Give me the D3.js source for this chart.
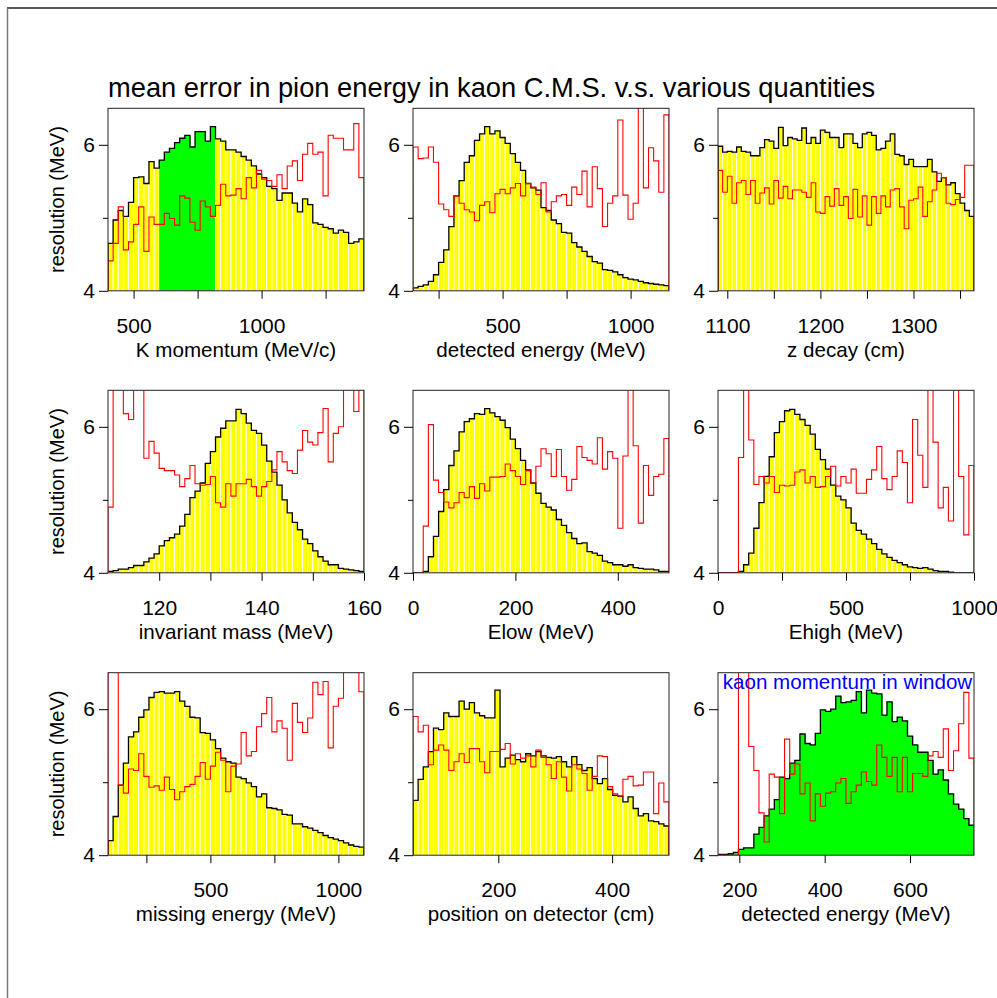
<!DOCTYPE html>
<html>
<head>
<meta charset="utf-8">
<script src="https://cdn.jsdelivr.net/npm/d3@7"></script>
<style>
  body { margin: 0; background: #fff; }
  text { font-family: "Liberation Sans", Arial, Helvetica, sans-serif; }
</style>
</head>
<body>
<div id="chart"></div>
<script>
// bin contents (y axis = resolution in MeV, 4 means empty)
var kMomHist = [4.65,4.97,5.10,5.02,5.21,5.55,5.56,5.47,5.77,5.68, 5.79,5.90,5.95,6.03,6.09,6.13,5.97,6.18,6.18,6.05,
  6.25,6.08,6.05,5.93,5.93,5.90,5.84,5.79,5.71,5.60, 5.55,5.43,5.40,5.24,5.34,5.34,5.20,5.08,5.26,5.18,
  4.93,4.91,4.87,4.85,4.79,4.83,4.80,4.65,4.67,4.71];
var kMomRes = [4.41,4.65,5.15,4.56,4.67,4.91,5.15,4.54,5.01,4.91, 4.91,5.06,4.99,4.90,5.30,5.27,4.94,4.83,5.23,5.15,
  5.02,5.17,5.46,5.30,5.31,5.40,5.26,5.55,5.41,5.65, 5.53,5.51,5.43,5.59,5.40,5.71,5.78,5.51,5.87,6.02,
  5.87,5.90,5.30,6.13,6.09,6.09,5.93,5.93,6.29,5.55];

var detEHist = [4.04,4.06,4.08,4.13,4.22,4.39,4.56,4.88,5.30,5.51, 5.76,5.85,6.06,6.15,6.25,6.15,6.19,6.10,6.02,5.88,
  5.76,5.65,5.47,5.41,5.38,5.14,5.10,4.97,4.92,4.80, 4.79,4.66,4.60,4.54,4.47,4.40,4.38,4.29,4.28,4.26,
  4.22,4.18,4.16,4.15,4.13,4.11,4.10,4.09,4.08,4.07];
var detERes = [5.97,5.81,5.82,5.97,5.76,5.19,5.11,5.02,5.30,5.20, 5.11,5.08,4.96,5.17,5.22,5.07,5.33,5.39,5.33,5.41,
  5.47,5.30,5.47,5.42,5.32,5.48,5.08,5.22,5.30,5.32, 5.17,5.42,5.32,5.64,5.15,5.70,5.40,4.88,5.20,5.30,
  6.34,5.31,4.98,5.20,6.60,5.41,5.96,5.78,5.35,6.41];

var zDecHist = [5.98,5.90,5.91,5.90,5.97,5.91,5.90,5.85,5.85,5.96, 6.07,6.05,5.95,6.24,5.99,6.10,6.08,6.06,6.23,6.02,
  6.10,6.02,6.20,6.17,6.10,6.10,5.96,6.15,6.15,6.02, 5.96,6.15,6.17,6.13,5.93,5.95,6.05,6.15,5.87,5.85,
  5.73,5.80,5.70,5.70,5.70,5.80,5.63,5.50,5.55,5.45, 5.48,5.33,5.20,5.10,5.02];
var zDecRes = [5.65,5.35,5.57,5.20,5.48,5.51,5.32,5.51,5.20,5.34, 5.41,5.19,5.51,5.27,5.43,5.26,5.38,5.38,5.35,5.28,
  5.48,5.08,5.06,5.29,5.16,5.40,5.17,5.29,4.99,5.39, 5.01,5.30,4.90,5.29,5.06,5.30,5.15,5.38,5.40,5.15,
  4.85,5.24,5.26,5.42,5.02,5.22,5.38,5.61,5.55,5.20, 5.18,5.25,5.28,5.72,5.72];

var invMHist = [4.02,4.03,4.05,4.05,4.07,4.10,4.10,4.15,4.20,4.26, 4.37,4.44,4.48,4.53,4.64,4.80,5.03,5.12,5.23,5.50,
  5.66,5.86,5.98,6.08,6.08,6.24,6.18,6.05,5.95,5.91, 5.75,5.53,5.38,5.20,5.00,4.82,4.69,4.59,4.46,4.40,
  4.30,4.22,4.16,4.11,4.11,4.06,4.05,4.04,4.03,4.02];
var invMRes = [4.90,6.60,6.60,6.18,6.10,6.60,6.60,5.57,5.80,5.64, 5.43,5.40,5.40,5.34,5.18,5.29,5.47,5.22,5.20,5.21,
  5.32,4.96,4.90,5.22,5.05,5.22,5.22,5.28,5.18,5.05, 5.18,5.25,5.41,5.66,5.52,5.40,5.36,5.68,5.95,5.79,
  5.75,5.92,6.25,5.52,5.91,6.00,6.60,6.60,6.21,6.60];

var elowHist = [4.00,4.00,4.02,4.22,4.50,4.84,5.14,5.47,5.67,5.93, 6.07,6.11,6.18,6.17,6.25,6.19,6.14,6.09,5.99,5.83,
  5.70,5.54,5.41,5.23,5.09,4.95,4.90,4.86,4.73,4.65, 4.55,4.47,4.40,4.41,4.29,4.27,4.24,4.16,4.14,4.11,
  4.11,4.09,4.11,4.07,4.06,4.05,4.05,4.04,4.02,4.02];
var elowRes = [4.00,4.00,4.64,6.03,5.27,5.10,4.97,4.89,4.96,5.10, 5.03,5.18,5.02,5.22,5.12,5.31,5.31,5.32,5.49,5.40,
  5.32,5.21,5.40,5.23,5.46,5.70,5.63,5.32,5.69,5.32, 5.13,5.28,5.73,5.58,5.54,5.49,5.85,5.42,5.66,5.57,
  4.61,5.60,6.60,5.74,4.68,5.47,5.06,5.32,5.35,5.84];

var ehighHist = [4.00,4.00,4.00,4.00,4.02,4.11,4.27,4.61,4.96,5.32, 5.59,5.92,6.07,6.22,6.24,6.17,6.10,6.02,5.90,5.69,
  5.55,5.42,5.20,5.05,5.00,4.89,4.68,4.58,4.53,4.46, 4.40,4.32,4.26,4.21,4.17,4.14,4.11,4.08,4.07,4.06,
  4.07,4.05,4.03,4.02,4.02,4.01,4.00,4.00,4.00,4.00];
var ehighRes = [4.00,4.00,4.00,4.00,5.58,6.60,5.82,5.21,5.32,5.23, 5.32,5.10,5.20,5.19,5.20,5.38,5.41,5.23,5.32,5.17,
  5.18,5.32,5.46,5.19,5.32,5.23,5.42,5.09,5.09,5.28, 5.41,5.73,5.29,5.14,5.32,5.67,5.51,4.96,6.10,5.61,
  5.17,6.60,5.79,4.89,5.17,4.71,6.60,5.32,4.52,5.47];

var missHist = [4.20,4.53,4.96,5.26,5.62,5.69,5.89,5.99,6.16,6.23, 6.24,6.22,6.22,6.24,6.11,6.04,5.89,5.88,5.68,5.67,
  5.58,5.46,5.33,5.28,5.26,5.07,5.05,4.99,4.94,4.80, 4.84,4.65,4.64,4.62,4.56,4.55,4.43,4.43,4.39,4.37,
  4.34,4.31,4.27,4.24,4.22,4.20,4.17,4.14,4.12,4.11];
var missRes = [6.60,6.60,4.96,4.85,5.18,5.16,5.39,5.08,4.93,4.95, 4.89,5.07,4.90,4.76,4.87,4.94,4.97,5.08,5.27,5.04,
  5.22,5.41,5.30,4.87,5.22,5.25,5.68,5.36,5.42,5.76, 5.94,6.16,5.69,5.84,5.74,5.30,6.08,5.82,5.68,5.88,
  6.37,6.20,6.38,5.47,6.04,6.15,6.60,6.60,6.60,6.24];

var posHist = [4.75,5.04,5.21,5.42,5.74,5.72,5.95,5.90,5.90,6.11, 6.00,6.09,5.95,5.91,5.88,5.88,6.26,5.21,5.33,5.37,
  5.31,5.28,5.39,5.36,5.42,5.36,5.34,5.33,5.35,5.28, 5.21,5.35,5.24,5.16,5.20,5.05,4.98,5.05,4.90,4.82,
  4.81,4.73,4.80,4.64,4.54,4.57,4.47,4.46,4.43,4.40];
var posRes = [5.90,5.69,5.78,5.24,5.44,5.51,5.44,5.16,5.28,5.39, 5.27,5.46,5.46,5.28,5.13,5.42,5.42,5.45,5.53,5.25,
  5.39,5.33,5.36,5.21,5.44,5.34,5.24,5.05,5.28,5.07, 4.88,5.24,5.18,5.12,4.89,5.08,5.36,5.35,4.94,4.84,
  4.81,5.04,5.08,4.95,4.96,5.14,5.14,4.57,4.99,4.73];

var winHist = [4.01,4.01,4.02,4.04,4.08,4.10,4.10,4.29,4.38,4.54, 4.63,4.76,5.07,5.05,5.26,5.30,5.66,5.53,5.51,5.67,
  5.99,5.97,6.00,6.18,6.09,6.10,6.12,6.24,5.95,6.26, 6.22,6.21,5.92,6.10,5.83,5.89,5.84,5.63,5.51,5.41,
  5.41,5.30,5.11,5.17,5.03,4.84,4.70,4.63,4.50,4.41];
var winRes = [4.00,4.00,4.00,4.00,6.60,6.60,5.49,5.16,4.58,4.18, 5.11,5.07,4.57,5.59,5.11,5.25,4.84,4.99,4.47,4.84,
  4.67,4.85,4.87,4.99,5.05,4.71,4.87,4.96,5.14,5.01, 4.96,5.51,5.34,5.08,5.34,4.87,5.34,4.87,5.12,5.12,
  5.08,5.36,5.42,5.34,5.73,5.16,5.43,5.80,6.23,5.33];

var yTicks = [4, 6];
var yMinor = [5];

var panels = [
  {xlab: "K momentum (MeV/c)", lo: 400, hi: 1400, ticks: [500,750,1000,1250], labels: [500,1000], hist: kMomHist, res: kMomRes, green: [10,20]},
  {xlab: "detected energy (MeV)", lo: 150, hi: 1150, ticks: [250,500,750,1000], labels: [500,1000], hist: detEHist, res: detERes},
  {xlab: "z decay (cm)", lo: 1090, hi: 1365, ticks: [1100,1150,1200,1250,1300,1350], labels: [1100,1200,1300], hist: zDecHist, res: zDecRes},
  {xlab: "invariant mass (MeV)", lo: 110, hi: 160, ticks: [120,130,140,150,160], labels: [120,140,160], hist: invMHist, res: invMRes},
  {xlab: "Elow (MeV)", lo: 0, hi: 500, ticks: [0,200,400], labels: [0,200,400], hist: elowHist, res: elowRes},
  {xlab: "Ehigh (MeV)", lo: 0, hi: 1000, ticks: [0,250,500,750,1000], labels: [0,500,1000], hist: ehighHist, res: ehighRes},
  {xlab: "missing energy (MeV)", lo: 100, hi: 1100, ticks: [250,500,750,1000], labels: [500,1000], hist: missHist, res: missRes},
  {xlab: "position on detector (cm)", lo: 50, hi: 500, ticks: [200,400], labels: [200,400], hist: posHist, res: posRes},
  {xlab: "detected energy (MeV)", lo: 150, hi: 750, ticks: [200,400,600], labels: [200,400,600], hist: winHist, res: winRes, green: [0,49], note: "kaon momentum in window"}
];

var cols = [108, 413, 718], rows = [108.3, 390.3, 672.7];
var pw = 256, ph = 182.5;

var svg = d3.select("#chart").append("svg")
  .attr("width", 997).attr("height", 998);

// page frame
svg.append("line").attr("x1", 7).attr("x2", 997).attr("y1", 8).attr("y2", 8)
  .attr("stroke", "#222").attr("stroke-width", 1.5);
svg.append("line").attr("x1", 7.5).attr("x2", 7.5).attr("y1", 8).attr("y2", 998)
  .attr("stroke", "#777").attr("stroke-width", 1.5);

svg.append("text").attr("x", 108).attr("y", 97)
  .style("font-size", "27.3px")
  .text("mean error in pion energy in kaon C.M.S. v.s. various quantities");

function stepPoints(vals, lo, bw) {
  var pts = [[lo, 4]];
  vals.forEach(function (v, i) { pts.push([lo + i * bw, v]); });
  pts.push([lo + vals.length * bw, vals[vals.length - 1]]);
  pts.push([lo + vals.length * bw, 4]);
  return pts;
}

panels.forEach(function (p, k) {
  var g = svg.append("g")
    .attr("transform", "translate(" + cols[k % 3] + "," + rows[Math.floor(k / 3)] + ")");
  var x = d3.scaleLinear().domain([p.lo, p.hi]).range([0, pw]);
  var y = d3.scaleLinear().domain([4, 6.5]).range([ph, 0]);
  var n = p.hist.length, bw = (p.hi - p.lo) / n;
  var isGreen = function (i) { return p.green && i >= p.green[0] && i <= p.green[1]; };

  g.append("clipPath").attr("id", "clip" + k)
    .append("rect").attr("width", pw).attr("height", ph);
  var inner = g.append("g").attr("clip-path", "url(#clip" + k + ")");

  // bars (green ones are drawn slightly wider so they join without seams)
  inner.selectAll("rect.bin")
    .data(p.hist)
    .enter()
    .append("rect")
      .attr("class", "bin")
      .attr("x", function (d, i) { return x(p.lo + i * bw); })
      .attr("y", function (d) { return y(d); })
      .attr("width", function (d, i) { return x(p.lo + bw) - x(p.lo) + (isGreen(i) && i < p.green[1] ? 0.8 : 0); })
      .attr("height", function (d) { return y(4) - y(d); })
      .attr("fill", function (d, i) { return isGreen(i) ? "#00ff00" : "#ffff00"; })
      .attr("stroke", function (d, i) { return isGreen(i) ? "none" : "#fff"; })
      .attr("stroke-width", 0.9);

  var line = d3.line()
    .x(function (d) { return x(d[0]); })
    .y(function (d) { return y(d[1]); })
    .curve(d3.curveStepAfter);

  inner.append("path")
    .attr("d", line(stepPoints(p.hist, p.lo, bw)))
    .attr("fill", "none").attr("stroke", "#000").attr("stroke-width", 1.3);

  inner.append("path")
    .attr("d", line(stepPoints(p.res, p.lo, bw)))
    .attr("fill", "none").attr("stroke", "#ff0000").attr("stroke-width", 1.1);

  g.append("rect").attr("width", pw).attr("height", ph)
    .attr("fill", "none").attr("stroke", "#222").attr("stroke-width", 1);

  // x axis
  var xa = g.append("g").attr("transform", "translate(0," + ph + ")")
    .call(d3.axisBottom(x).tickValues(p.ticks).tickSize(8).tickSizeOuter(0).tickPadding(19)
      .tickFormat(function (d) { return p.labels.indexOf(d) >= 0 ? d : ""; }));
  xa.select(".domain").remove();
  xa.selectAll("text").style("font-size", "21px").attr("fill", "#000")
    .style("font-family", "'Liberation Sans', Arial, sans-serif");

  // y axis
  var ya = g.append("g")
    .call(d3.axisLeft(y).tickValues(yTicks).tickSize(9).tickSizeOuter(0).tickPadding(4)
      .tickFormat(d3.format("d")));
  ya.select(".domain").remove();
  ya.selectAll("text").style("font-size", "21px").attr("fill", "#000")
    .style("font-family", "'Liberation Sans', Arial, sans-serif");
  var ym = g.append("g")
    .call(d3.axisLeft(y).tickValues(yMinor).tickSize(5).tickSizeOuter(0).tickFormat(""));
  ym.select(".domain").remove();

  g.append("text")
    .attr("x", pw / 2).attr("y", ph + 66)
    .attr("text-anchor", "middle")
    .style("font-size", "20.6px")
    .text(p.xlab);

  if (k % 3 === 0) {
    g.append("text")
      .attr("transform", "translate(-44," + ph / 2 + ") rotate(-90)")
      .attr("text-anchor", "middle")
      .style("font-size", "20px")
      .text("resolution (MeV)");
  }

  if (p.note) {
    g.append("text")
      .attr("x", 4.7).attr("y", 16.5)
      .attr("fill", "#0000ff")
      .style("font-size", "20.6px")
      .text(p.note);
  }
});
</script>
</body>
</html>
